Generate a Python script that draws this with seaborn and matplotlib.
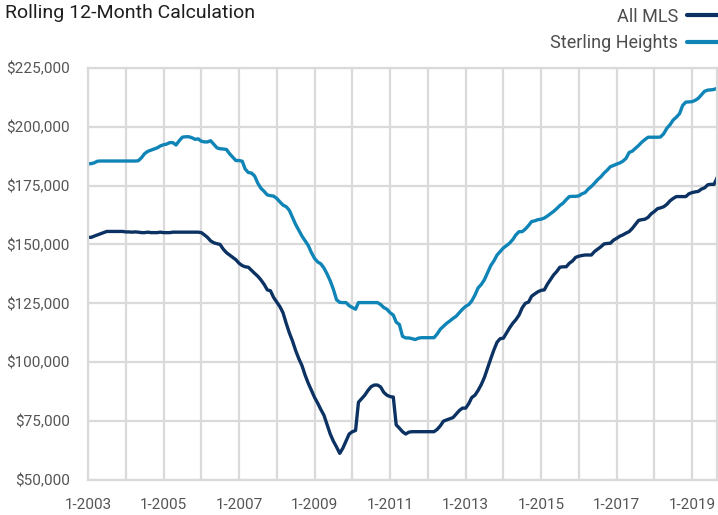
import pandas as pd
import matplotlib
matplotlib.use("Agg")
import matplotlib.pyplot as plt
import matplotlib.dates as mdates
from matplotlib.ticker import FuncFormatter
import seaborn as sns

# monthly rolling 12-month median price, Jan 2003 .. Sep 2019 (in $1,000)
all_mls = [
    153.0, 153.0, 153.5, 154.0, 154.5, 155.0, 155.5, 155.5, 155.5, 155.5, 155.5, 155.5,  # 2003
    155.3, 155.3, 155.2, 155.3, 155.2, 155.0, 155.0, 155.2, 155.0, 155.0, 155.0, 155.2,  # 2004
    155.0, 155.0, 155.0, 155.2, 155.2, 155.2, 155.2, 155.2, 155.2, 155.2, 155.2, 155.2,  # 2005
    155.0, 154.0, 153.0, 151.5, 150.7, 150.3, 150.0, 148.0, 146.5, 145.5, 144.5, 143.5,  # 2006
    142.0, 141.0, 140.5, 140.3, 139.0, 137.7, 136.5, 134.9, 133.0, 130.7, 130.3, 127.5,  # 2007
    125.5, 123.5, 121.0, 116.5, 112.5, 109.0, 105.0, 101.5, 98.5, 94.5, 91.0, 88.0,      # 2008
    85.0, 82.5, 80.0, 77.5, 73.5, 69.5, 66.5, 64.0, 61.3, 63.5, 66.5, 69.5,              # 2009
    70.5, 71.0, 83.0, 84.5, 86.0, 88.0, 89.6, 90.3, 90.3, 89.5, 87.2, 86.0,              # 2010
    85.4, 85.2, 73.4, 72.0, 70.5, 69.5, 70.3, 70.5, 70.5, 70.5, 70.5, 70.5,              # 2011
    70.5, 70.5, 70.5, 71.5, 73.0, 75.0, 75.5, 76.0, 76.5, 78.0, 79.5, 80.5,              # 2012
    80.5, 82.5, 85.0, 86.0, 88.0, 90.5, 93.5, 97.5, 101.5, 105.2, 108.5, 110.0,          # 2013
    110.2, 112.5, 114.5, 116.5, 118.0, 120.0, 123.0, 125.0, 125.5, 128.0, 129.0, 129.9,  # 2014
    130.5, 130.7, 133.0, 135.0, 137.0, 138.5, 140.3, 140.5, 140.5, 142.0, 143.0, 144.5,  # 2015
    145.0, 145.3, 145.5, 145.5, 145.5, 147.0, 148.0, 149.0, 150.2, 150.4, 150.5, 151.8,  # 2016
    152.6, 153.5, 154.0, 154.8, 155.4, 156.8, 158.5, 160.2, 160.5, 160.7, 161.5, 163.0,  # 2017
    164.0, 165.2, 165.5, 166.0, 167.0, 168.5, 169.5, 170.3, 170.3, 170.3, 170.3, 171.5,  # 2018
    172.0, 172.3, 172.5, 173.5, 174.0, 175.3, 175.5, 175.5, 178.5,                       # 2019
]
sterling_heights = [
    184.2, 184.3, 184.6, 185.3, 185.4, 185.4, 185.4, 185.4, 185.4, 185.4, 185.4, 185.4,  # 2003
    185.4, 185.4, 185.4, 185.4, 185.5, 186.8, 188.5, 189.5, 190.0, 190.5, 191.0, 191.8,  # 2004
    192.3, 192.6, 193.2, 193.2, 192.2, 194.0, 195.5, 195.7, 195.7, 195.3, 194.6, 194.8,  # 2005
    193.8, 193.5, 193.5, 194.0, 192.5, 191.0, 190.6, 190.5, 190.3, 188.5, 187.0, 185.6,  # 2006
    185.6, 185.3, 182.0, 180.5, 180.3, 179.0, 176.0, 173.8, 172.5, 171.0, 170.7, 170.5,  # 2007
    169.5, 168.0, 166.7, 166.0, 164.5, 161.5, 158.5, 156.0, 153.5, 151.5, 149.5, 146.5,  # 2008
    144.0, 142.5, 141.8, 140.0, 137.5, 134.5, 131.0, 126.5, 125.4, 125.3, 125.3, 124.0,  # 2009
    123.2, 122.5, 125.3, 125.3, 125.3, 125.3, 125.3, 125.3, 125.3, 124.5, 123.2, 122.5,  # 2010
    121.0, 120.0, 117.0, 116.0, 111.0, 110.3, 110.3, 110.0, 109.6, 110.2, 110.4, 110.4,  # 2011
    110.4, 110.4, 110.4, 112.0, 114.0, 115.3, 116.5, 117.5, 118.6, 119.5, 121.0, 122.5,  # 2012
    123.7, 124.5, 126.0, 128.5, 131.5, 133.0, 135.0, 138.0, 141.0, 143.0, 145.5, 147.0,  # 2013
    148.5, 149.5, 150.5, 152.0, 154.0, 155.4, 155.4, 156.5, 158.0, 159.7, 160.0, 160.5,  # 2014
    160.7, 161.2, 162.0, 163.0, 164.0, 165.2, 166.5, 167.5, 169.0, 170.3, 170.4, 170.4,  # 2015
    170.6, 171.5, 172.0, 173.5, 174.6, 176.0, 177.5, 178.7, 180.3, 181.5, 183.0, 183.5,  # 2016
    184.1, 184.6, 185.3, 186.5, 189.0, 189.6, 190.8, 192.0, 193.4, 194.5, 195.5, 195.5,  # 2017
    195.5, 195.5, 195.6, 197.0, 199.3, 200.8, 202.8, 204.0, 205.5, 209.0, 210.4, 210.5,  # 2018
    210.6, 211.2, 212.0, 213.5, 215.0, 215.5, 215.6, 215.8, 216.3,                       # 2019
]
series_names = ["All MLS", "Sterling Heights"]
colors = {"All MLS": "#0b3262", "Sterling Heights": "#0f84b6"}
y_ticks = [50000, 75000, 100000, 125000, 150000, 175000, 200000, 225000]

months = pd.date_range("2003-01-01", periods=len(all_mls), freq="MS")
df = pd.concat([
    pd.DataFrame({"date": months, "price": [v * 1000 for v in all_mls], "series": series_names[0]}),
    pd.DataFrame({"date": months, "price": [v * 1000 for v in sterling_heights], "series": series_names[1]}),
])

sns.set_style("white")
plt.rcParams["font.family"] = ["Roboto", "DejaVu Sans"]

grid_c = "#dadada"
fig = plt.figure(figsize=(7.18, 5.15), dpi=100)
ax = fig.add_axes([0.1226, 0.068, 0.8764, 0.8005])

sns.lineplot(data=df, x="date", y="price", hue="series", hue_order=series_names,
             palette=colors, linewidth=2.4, ax=ax, legend=False)

ax.set_xlim(months[0], months[-1])
ax.set_ylim(50000, 225000)
ax.set_yticks(y_ticks)
ax.yaxis.set_major_formatter(FuncFormatter(lambda v, p: f"${v:,.0f}"))
ax.xaxis.set_major_locator(mdates.YearLocator())
ax.xaxis.set_major_formatter(FuncFormatter(
    lambda v, p: f"1-{mdates.num2date(v).year}" if mdates.num2date(v).year % 2 == 1 else ""))

ax.grid(True, color=grid_c, linewidth=1.6)
ax.set_axisbelow(True)
for s in ax.spines.values():
    s.set_color(grid_c)
    s.set_linewidth(1.6)
ax.tick_params(axis="both", length=5, width=1.6, color=grid_c, labelcolor="#555555",
               labelsize=11)
ax.tick_params(axis="x", pad=8)
ax.tick_params(axis="y", pad=8)
ax.set_xlabel("")
ax.set_ylabel("")

fig.text(0.007, 0.975, "Rolling 12-Month Calculation", fontsize=14, color="#1e1e1e",
         va="center", ha="left")

handles = [plt.Line2D([], [], color=colors[n], linewidth=3) for n in series_names]
fig.legend(handles, series_names, loc="upper right", bbox_to_anchor=(1.0, 0.985),
           frameon=False, markerfirst=False, fontsize=13, labelcolor="#4d4d4d",
           handlelength=1.7, handletextpad=0.5, labelspacing=0.45, borderpad=0,
           borderaxespad=0)

fig.savefig("out.png", dpi=100)
